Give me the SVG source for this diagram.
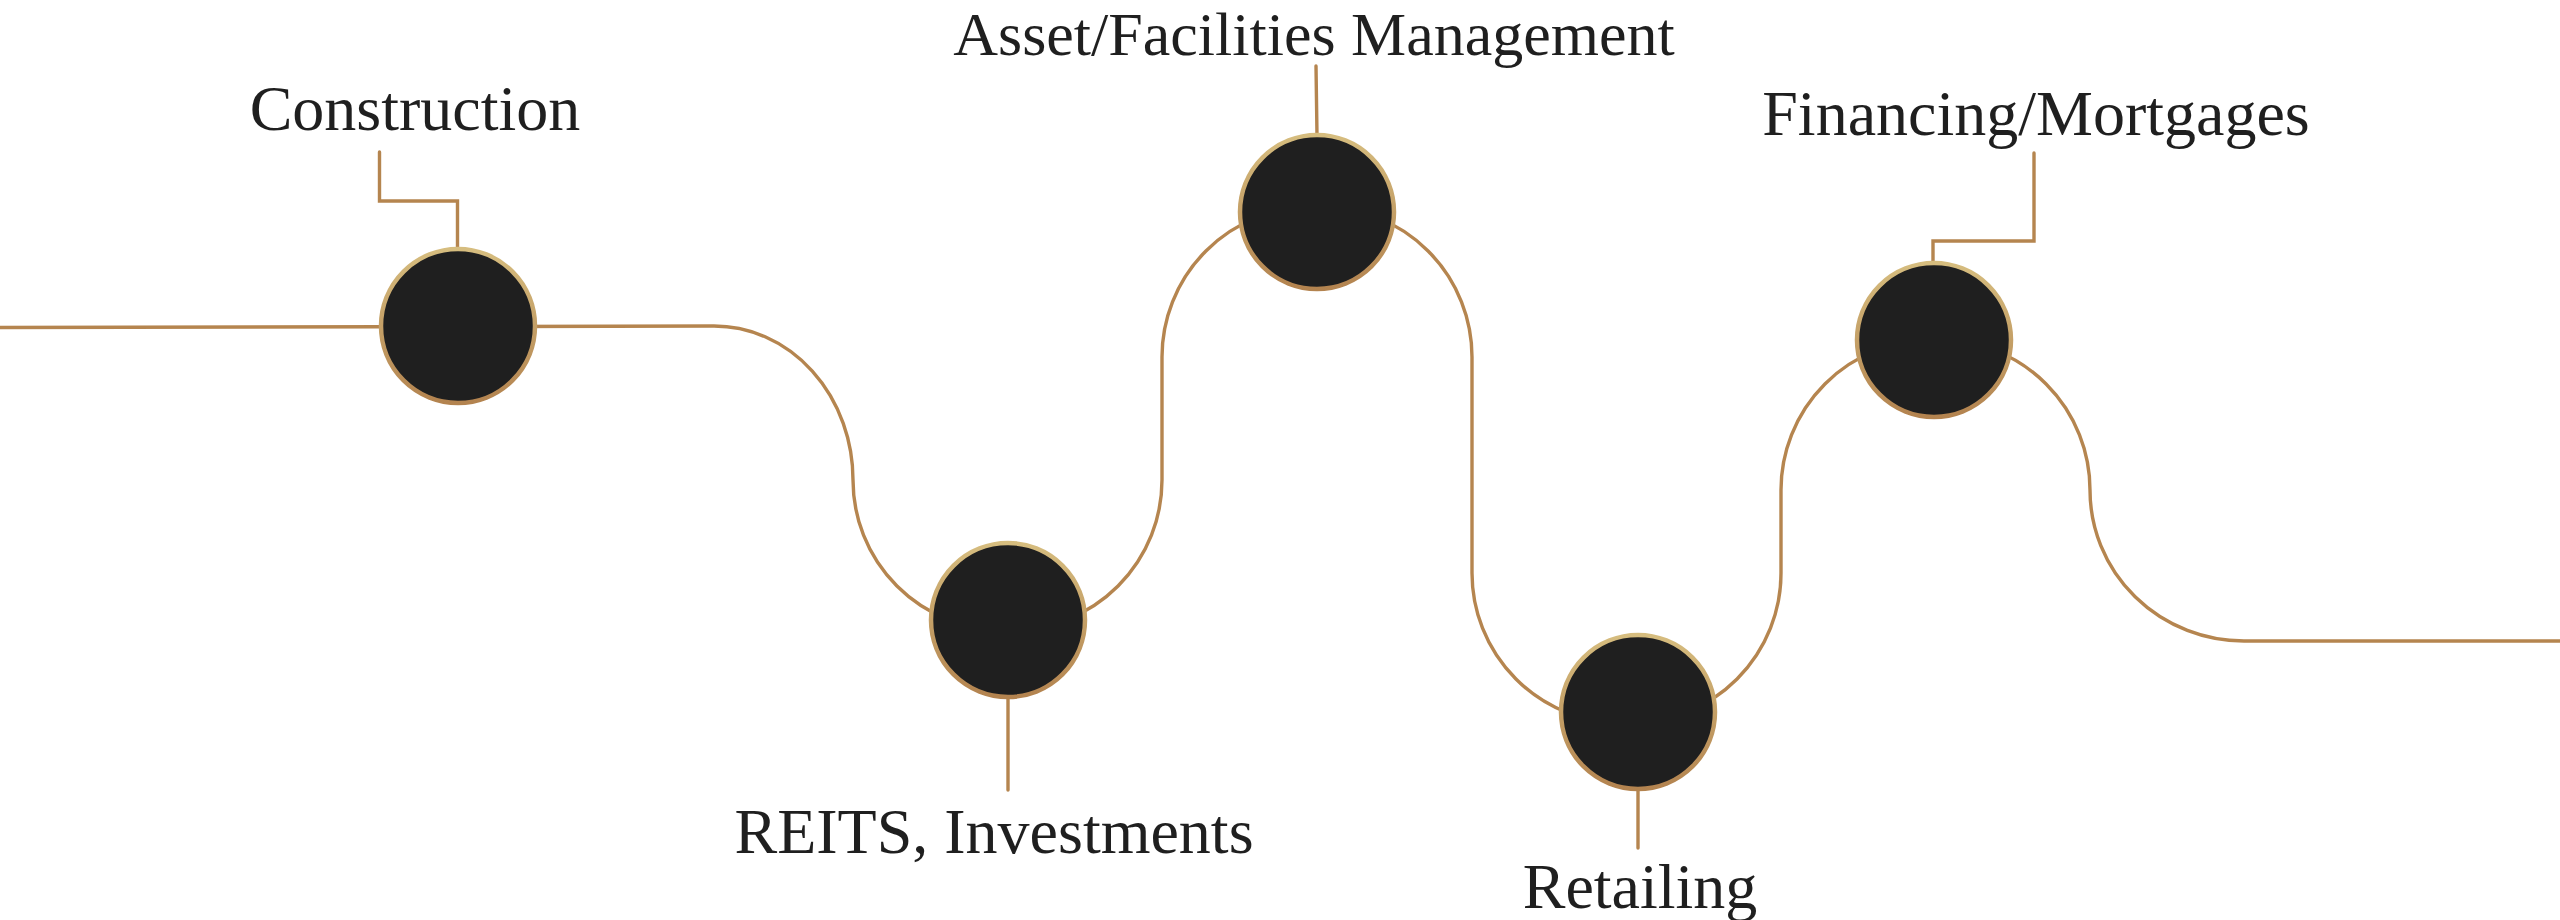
<svg xmlns="http://www.w3.org/2000/svg" width="2560" height="920" viewBox="0 0 2560 920">
<style>
.wave{fill:none;stroke:#B5854F;stroke-width:3.4}
.lead{fill:none;stroke:#B5854F;stroke-width:3.4;stroke-linecap:round}
.dot{fill:#1F1F1F;stroke:url(#ring);stroke-width:4.5}
.lbl{font-family:"Liberation Serif","Times New Roman",serif;font-size:64px;fill:#1F1F1F;text-anchor:middle}
</style>
<defs>
<linearGradient id="ring" x1="0" y1="0" x2="0" y2="1">
<stop offset="0" stop-color="#D6BD7F"/>
<stop offset="1" stop-color="#B3834F"/>
</linearGradient>
</defs>
<rect width="2560" height="920" fill="#FFFFFF"/>
<g id="connectors">
<path class="wave" d="M0 327.5 L714 326 A139 154 0 0 1 853 480 A150 150 0 0 0 1003 630 L1012 630 A150 150 0 0 0 1162 480 L1162 357 A150 150 0 0 1 1312 207 L1322 207 A150 150 0 0 1 1472 357 L1472 573 A150 150 0 0 0 1622 723 L1631 723 A150 150 0 0 0 1781 573 L1781 490 A150 150 0 0 1 1931 340 L1940 340 A150 150 0 0 1 2090 490 A154 151 0 0 0 2244 641 L2560 641"/>
<path class="lead" d="M379.5 152 V201 H457.5 V249"/>
<path class="lead" d="M1316 66 L1317 136"/>
<path class="lead" d="M1008 697 V790"/>
<path class="lead" d="M1638 789 V848"/>
<path class="lead" d="M1933 263 V241 H2034 V153"/>
</g>
<g id="construction">
<circle class="dot" cx="458" cy="326" r="77"/>
<text class="lbl" x="415" y="130">Construction</text>
</g>
<g id="reits">
<circle class="dot" cx="1008" cy="620" r="77"/>
<text class="lbl" x="994" y="853">REITS, Investments</text>
</g>
<g id="asset">
<circle class="dot" cx="1317" cy="212" r="77"/>
<text class="lbl" x="1314" y="55" style="font-size:62px">Asset/Facilities Management</text>
</g>
<g id="retailing">
<circle class="dot" cx="1638" cy="712" r="77"/>
<text class="lbl" x="1640" y="908">Retailing</text>
</g>
<g id="financing">
<circle class="dot" cx="1934" cy="340" r="77"/>
<text class="lbl" x="2036" y="135">Financing/Mortgages</text>
</g>
</svg>
